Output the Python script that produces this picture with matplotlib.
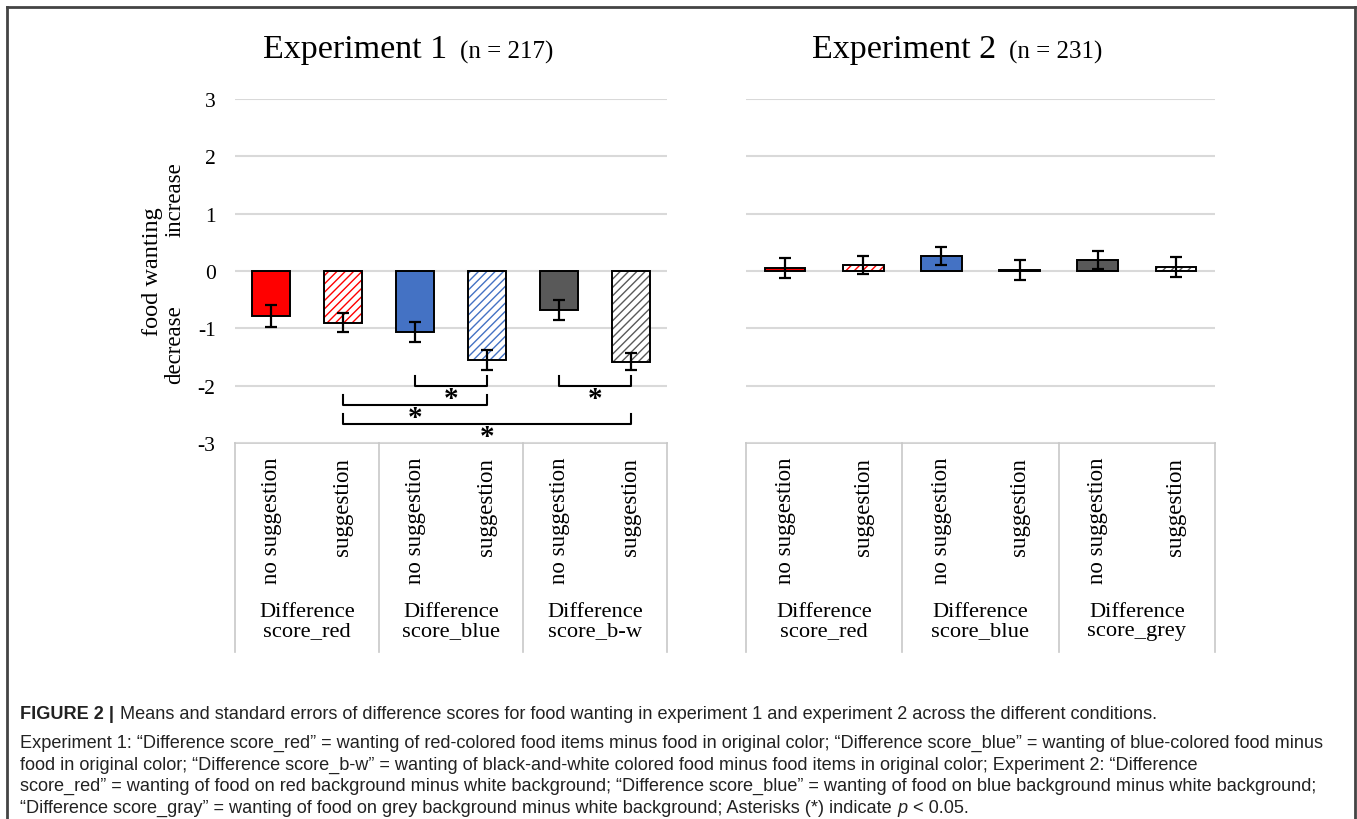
import matplotlib.pyplot as plt
from matplotlib.lines import Line2D
import matplotlib.transforms as mtransforms

# ---- data ----
conditions = ['no suggestion', 'suggestion'] * 3
groups_exp1 = ['Difference\nscore_red', 'Difference\nscore_blue', 'Difference\nscore_b-w']
groups_exp2 = ['Difference\nscore_red', 'Difference\nscore_blue', 'Difference\nscore_grey']

exp1_means = [-0.78, -0.90, -1.06, -1.55, -0.68, -1.58]
exp1_se = [0.19, 0.17, 0.17, 0.17, 0.17, 0.15]
exp2_means = [0.05, 0.10, 0.26, 0.02, 0.19, 0.07]
exp2_se = [0.18, 0.16, 0.16, 0.18, 0.16, 0.17]

yticks = [3, 2, 1, 0, -1, -2, -3]
ytick_labels = ['3', '2', '1', '0', '-1', '-2', '-3']

# significant comparisons in experiment 1 (bar index pairs)
sig_pairs = [(2, 3), (1, 3), (1, 5), (4, 5)]

caption_lines = [
    'Experiment 1: \u201cDifference score_red\u201d = wanting of red-colored food items minus food in original color; \u201cDifference score_blue\u201d = wanting of blue-colored food minus',
    'food in original color; \u201cDifference score_b-w\u201d = wanting of black-and-white colored food minus food items in original color; Experiment 2: \u201cDifference',
    'score_red\u201d = wanting of food on red background minus white background; \u201cDifference score_blue\u201d = wanting of food on blue background minus white background;',
    '\u201cDifference score_gray\u201d = wanting of food on grey background minus white background; Asterisks (*) indicate',
]

# ---- style ----
bar_colors = ['#ff0000', '#4472c4', '#595959']
serif = 'Liberation Serif'
cap_font = 'Liberation Sans'
plt.rcParams['hatch.linewidth'] = 1.0

W, H = 1357, 820
fig = plt.figure(figsize=(W / 100, H / 100), dpi=100)

ax1 = fig.add_axes([235 / W, 1 - 444 / H, 432 / W, 344 / H])
ax2 = fig.add_axes([746 / W, 1 - 444 / H, 469 / W, 344 / H])


def draw_panel(ax, means, ses, groups):
    x = list(range(len(means)))
    for i in x:
        col = bar_colors[i // 2]
        if i % 2 == 0:
            ax.bar(i, means[i], width=0.52, color=col, edgecolor='black',
                   linewidth=1.4, zorder=3)
        else:
            ax.bar(i, means[i], width=0.52, color='white', edgecolor=col,
                   hatch='////', linewidth=0, zorder=3)
            ax.bar(i, means[i], width=0.52, color='none', edgecolor='black',
                   linewidth=1.4, zorder=4)
    ax.errorbar(x, means, yerr=ses, fmt='none', ecolor='black',
                elinewidth=1.6, capsize=4, capthick=1.6, zorder=5)

    ax.set_xlim(-0.5, 5.5)
    ax.set_ylim(-3, 3)
    ax.set_yticks(yticks)
    ax.grid(axis='y', color='#d9d9d9', linewidth=1.5, zorder=0)
    for s in ax.spines.values():
        s.set_visible(False)
    ax.tick_params(length=0)
    ax.tick_params(axis='x', pad=10)
    ax.tick_params(axis='y', pad=14)
    ax.set_xticks(x)
    ax.set_xticklabels(conditions, rotation=90, fontsize=16.5, family=serif)

    # table under the axis
    trans = ax.get_xaxis_transform()
    ax.plot([-0.5, 5.5], [0, 0], transform=trans, clip_on=False,
            color='#c8c8c8', lw=1.2, zorder=1)
    for b in [-0.5, 1.5, 3.5, 5.5]:
        ax.plot([b, b], [0, -0.608], transform=trans, clip_on=False,
                color='#c8c8c8', lw=1.2)
    for g, label in enumerate(groups):
        ax.text(2 * g + 0.5, -0.517, label, transform=trans, ha='center',
                va='center', fontsize=16.2, family=serif, linespacing=1.02)


draw_panel(ax1, exp1_means, exp1_se, groups_exp1)
draw_panel(ax2, exp2_means, exp2_se, groups_exp2)

ax1.set_yticklabels(ytick_labels, fontsize=15.5, family=serif)
ax2.set_yticklabels([])

# significance brackets
levels = [-2.0, -2.33, -2.66, -2.0]
for (a, b), lv in zip(sig_pairs, levels):
    ax1.plot([a, a, b, b], [lv + 0.16, lv, lv, lv + 0.16], color='black',
             lw=1.5, zorder=5, clip_on=False)
    ax1.text((a + b) / 2, lv - 0.22, '*', ha='center', va='center',
             fontsize=21, family=serif, fontweight='bold')

# y label
yt = mtransforms.blended_transform_factory(ax1.transAxes, ax1.transData)
ax1.text(-0.192, 0, 'food wanting', transform=yt, rotation=90, ha='center',
         va='center', fontsize=17.5, family=serif)
ax1.text(-0.139, 1.26, 'increase', transform=yt, rotation=90, ha='center',
         va='center', fontsize=16.5, family=serif)
ax1.text(-0.139, -1.27, 'decrease', transform=yt, rotation=90, ha='center',
         va='center', fontsize=16.5, family=serif)

# panel titles
for xpos, main, sub in [(263, 'Experiment 1', '(n = 217)'),
                        (812, 'Experiment 2', '(n = 231)')]:
    t = fig.text(xpos / W, 1 - 58 / H, main, ha='left', va='baseline',
                 fontsize=24.5, family=serif)
    fig.add_artist(plt.Annotation(sub, xy=(1, 0), xycoords=t, xytext=(9, 1),
                                  textcoords='offset points', va='bottom',
                                  ha='left', fontsize=18, family=serif))

# caption
cap_kw = dict(fontsize=13.1, family=cap_font, color='#222222')
t0 = fig.text(20 / W, 1 - 715 / H, 'FIGURE 2 |', ha='left', va='center',
              fontweight='bold', **cap_kw)
fig.add_artist(plt.Annotation(
    'Means and standard errors of difference scores for food wanting in experiment 1 and experiment 2 across the different conditions.',
    xy=(1, 0.5), xycoords=t0, xytext=(4, 0), textcoords='offset points',
    va='center', ha='left', **cap_kw))
last = None
for k, line in enumerate(caption_lines):
    last = fig.text(20 / W, 1 - (748 + 21.5 * k) / H, line, ha='left',
                    va='baseline', **cap_kw)
p_txt = plt.Annotation('p', xy=(1, 0), xycoords=last, xytext=(4, 0),
                       textcoords='offset points', va='bottom', ha='left',
                       style='italic', **cap_kw)
fig.add_artist(p_txt)
fig.add_artist(plt.Annotation('< 0.05.', xy=(1, 0), xycoords=p_txt,
                              xytext=(4, 0), textcoords='offset points',
                              va='bottom', ha='left', **cap_kw))

# outer frame
fig.add_artist(Line2D([7 / W, 7 / W], [0, 1 - 8 / H], color='#444444', lw=2))
fig.add_artist(Line2D([1355 / W, 1355 / W], [0, 1 - 8 / H], color='#444444', lw=2))
fig.add_artist(Line2D([7 / W, 1355 / W], [1 - 8 / H, 1 - 8 / H], color='#444444', lw=2))

fig.savefig('out.png', dpi=100)
